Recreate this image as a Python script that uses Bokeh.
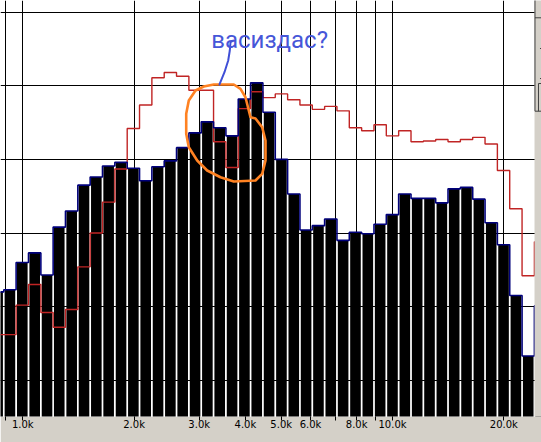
from bokeh.plotting import figure
from bokeh.models import FixedTicker, Label
from bokeh.embed import file_html
from bokeh.resources import INLINE

# ---- data ----
freq_hz = [855, 923, 997, 1077, 1163, 1255, 1356, 1464, 1581, 1707, 1844, 1991,
           2150, 2322, 2507, 2707, 2924, 3157, 3409, 3682, 3976, 4293, 4636, 5007,
           5407, 5838, 6305, 6808, 7352, 7940, 8574, 9259, 9998, 10797, 11660,
           12591, 13597, 14683, 15856, 17122, 18490, 19967, 21562, 23284, 25144]
level_db = [-48.0, -47.7, -44.0, -42.7, -45.7, -39.2, -37.0, -33.5, -32.4, -30.9,
            -30.4, -31.2, -32.9, -31.0, -30.2, -28.4, -26.4, -24.9, -25.7, -26.8,
            -21.8, -19.6, -23.6, -30.0, -34.7, -39.6, -39.0, -38.1, -41.0, -39.9,
            -40.1, -38.8, -37.5, -34.7, -35.3, -35.3, -35.9, -34.0, -33.8, -35.4,
            -38.6, -41.6, -48.5, -56.7, -49.9]
ref_db = [-53.8, -53.8, -49.8, -47.0, -50.8, -52.8, -50.4, -44.6, -40.0, -35.8,
          -31.3, -25.8, -22.6, -18.9, -18.2, -18.7, -20.6, -20.6, -27.6, -31.1,
          -23.1, -20.8, -21.6, -21.1, -21.9, -22.6, -23.2, -22.8, -23.4, -25.7,
          -26.1, -25.3, -26.8, -26.1, -27.6, -27.5, -27.3, -27.6, -27.3, -27.0,
          -27.9, -31.5, -36.7, -45.8, -41.2]
tick_hz = [900, 1000, 2000, 3000, 4000, 5000, 6000, 7000, 8000, 9000, 10000, 20000]
tick_labels = ["", "1.0k", "2.0k", "3.0k", "4.0k", "5.0k", "6.0k", "", "8.0k", "",
               "10.0k", "20.0k"]
grid_db = [-10, -20, -30, -40, -50, -60]

# hand-drawn annotation (Hz, dB)
ring_hz = [4002, 4129, 4260, 4441, 4534, 4534, 4441, 4260, 3721, 3426, 3153, 2963,
           2812, 2767, 2767, 2812, 2932, 3087, 3286, 3721, 3880, 4002]
ring_db = [-21.55, -24.27, -24.44, -25.63, -27.43, -30.15, -31.96, -32.87, -33.0,
           -32.42, -31.51, -30.15, -28.34, -26.52, -23.8, -22.0, -20.64, -20.1,
           -19.82, -19.82, -20.41, -21.55]
pointer_hz = [3404, 3512, 3594, 3630, 3646, 3707]
pointer_db = [-19.82, -18.15, -16.56, -15.2, -14.08, -13.85]
note_text = "васиздас?"

# window-chrome strip at the right edge (Hz, dB)
chrome_left_hz, chrome_right_hz = 24213, 27000
chrome_xs = [[24283, 24283], [24283, 27000], [24283, 27000], [25053, 27000],
             [25053, 27000], [24819, 24819], [24819, 27000]]
chrome_ys = [[-8.0, -23.45], [-10.76, -10.76], [-23.45, -23.45], [-14.93, -14.93],
             [-19.01, -19.01], [-19.69, -23.45], [-19.69, -19.69]]

floor_db = -100.0

p = figure(width=541, height=442, x_axis_type="log",
           x_range=(870.4, 25290), y_range=(-64.93, -8.41),
           output_backend="svg", toolbar_location=None, y_axis_location=None,
           min_border_left=0, min_border_top=0, min_border_right=0,
           min_border_bottom=26)
p.styles = {"position": "absolute", "left": "0px", "top": "0px"}
p.background_fill_color = "white"
p.border_fill_color = "#d4d0c8"
p.outline_line_color = None

ticker = FixedTicker(ticks=tick_hz)
ax = p.xaxis[0]
ax.ticker = ticker
ax.major_label_overrides = dict(zip(tick_hz, tick_labels))
ax.axis_line_color = None
ax.minor_tick_line_color = None
ax.major_tick_in = 0
ax.major_tick_out = 4
ax.major_tick_line_color = "black"
ax.major_label_standoff = -2
ax.major_label_text_font = "DejaVu Sans"
ax.major_label_text_font_size = "10px"
ax.major_label_text_color = "black"

p.xgrid.ticker = ticker
p.xgrid.grid_line_color = "black"
p.xgrid.grid_line_alpha = 1.0
p.ygrid.ticker = FixedTicker(ticks=grid_db)
p.ygrid.grid_line_color = "black"
p.ygrid.grid_line_alpha = 1.0

bar_mid = [(v + floor_db) / 2 for v in level_db]
bar_h = [v - floor_db for v in level_db]
p.rect(x=freq_hz, y=bar_mid, width=10.6, width_units="screen", height=bar_h,
       fill_color="black", line_color=None)
p.step(x=freq_hz, y=ref_db, mode="center", line_color="#c02424", line_width=1.4)
p.step(x=freq_hz, y=level_db, mode="center", line_color="#00007a", line_width=1.6)

p.line(x=ring_hz, y=ring_db, line_color="#ff8222", line_width=2.6,
       line_join="round", line_cap="round")
p.line(x=pointer_hz, y=pointer_db, line_color="#3f4fd6", line_width=2,
       line_join="round", line_cap="round")

# grey window strip on the right
p.quad(left=[chrome_left_hz], right=[chrome_right_hz], bottom=[floor_db], top=[0],
       fill_color="#d4d0c8", line_color=None)
p.multi_line(xs=chrome_xs, ys=chrome_ys, line_color="#404040", line_width=1)

p.add_layout(Label(x=3233, y=-13.78, text=note_text, text_font="Roboto",
                   text_font_size="24px", text_color="#4656d8",
                   text_baseline="alphabetic", text_align="left"))
p.add_layout(Label(x=885, y=-67.6, text="Frequency (Hz)",
                   text_font="DejaVu Sans", text_font_size="9px",
                   text_color="black", text_baseline="alphabetic",
                   text_align="left"))

open("out.html", "w").write(file_html(p, INLINE))
